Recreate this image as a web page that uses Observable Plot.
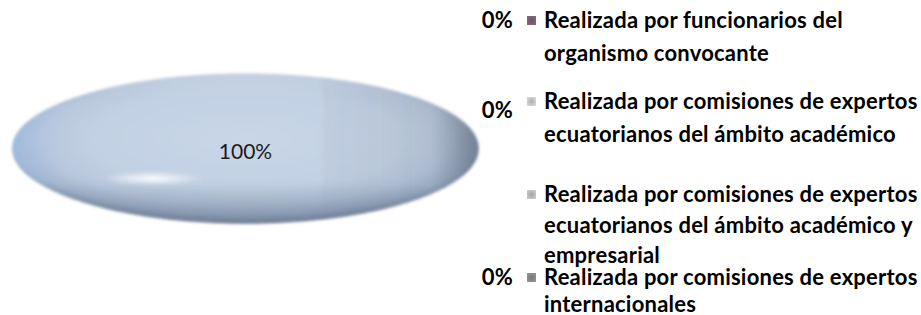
<!DOCTYPE html>
<html><head><meta charset="utf-8">
<script src="https://cdn.jsdelivr.net/npm/d3@7"></script>
<script src="https://cdn.jsdelivr.net/npm/@observablehq/plot@0.6"></script>
<style>
body{margin:0;background:#fff;}
#wrap{position:relative;width:921px;height:315px;overflow:hidden;font-family:Lato,"Open Sans",sans-serif;}
#chart{position:absolute;left:0;top:0;}
#chart svg g[aria-label="line"]{filter:url(#soft);}
.pct{position:absolute;width:44px;text-align:right;font-weight:bold;font-size:22px;line-height:20px;color:#000;white-space:nowrap;}
.sw{position:absolute;width:9px;height:9px;}
.lab{position:absolute;font-weight:bold;font-size:22px;line-height:20px;color:#000;white-space:nowrap;}
</style></head><body>
<div id="wrap"><div id="chart"></div></div>
<script>
// ---- data ----
const categories = [
  "Realizada por funcionarios del organismo convocante",
  "Realizada por comisiones de expertos ecuatorianos del ámbito académico",
  "Realizada por comisiones de expertos ecuatorianos del ámbito académico y empresarial",
  "Realizada por comisiones de expertos internacionales"
];
const labelLines = [
  ["Realizada por funcionarios del", "organismo convocante"],
  ["Realizada por comisiones de expertos", "ecuatorianos del ámbito académico"],
  ["Realizada por comisiones de expertos", "ecuatorianos del ámbito académico y", "empresarial"],
  ["Realizada por comisiones de expertos", "internacionales"]
];
const values = [0, 0, 100, 0];
const pctLabels = ["0%", "0%", "100%", "0%"];
const legendColors = ["#7d6070", "#c8c8c8", "#bdbdbd", "#8a8a8a"];

// ---- pie geometry (Excel: start at top, clockwise) ----
const arcs = d3.pie().sort(null).value(d => d)(values);
const pts = [];
arcs.forEach((a, i) => {
  if (a.endAngle - a.startAngle <= 0) return;
  const full = a.endAngle - a.startAngle >= 2 * Math.PI - 1e-9;
  const n = Math.max(2, Math.round(360 * (a.endAngle - a.startAngle) / (2 * Math.PI)));
  if (!full) pts.push({cat: categories[i], x: 0, y: 0});
  for (let k = 0; k <= n; k++) {
    const t = a.startAngle + (a.endAngle - a.startAngle) * k / n;
    pts.push({cat: categories[i], x: Math.sin(t), y: Math.cos(t)});
  }
});
const sliceLabels = arcs.filter(a => a.value > 0).map(a => {
  const full = a.endAngle - a.startAngle >= 2 * Math.PI - 1e-9;
  const m = (a.startAngle + a.endAngle) / 2;
  return {x: full ? 0 : 0.6 * Math.sin(m), y: full ? 0 : 0.6 * Math.cos(m), text: pctLabels[a.index]};
});

const plot = Plot.plot({
  width: 490, height: 315,
  marginLeft: 12, marginRight: 12, marginTop: 73, marginBottom: 92,
  x: {domain: [-1, 1], axis: null},
  y: {domain: [-1, 1], axis: null},
  marks: [
    Plot.line(pts, {x: "x", y: "y", z: "cat", fill: "url(#pieFace)", stroke: "none", curve: "linear-closed"}),
    Plot.line(pts, {x: "x", y: "y", z: "cat", fill: "url(#pieSide)", stroke: "none", curve: "linear-closed"}),
    Plot.line(pts, {x: "x", y: "y", z: "cat", fill: "url(#pieBottom)", stroke: "none", curve: "linear-closed"}),
    Plot.line(pts, {x: "x", y: "y", z: "cat", fill: "url(#pieHi)", stroke: "none", curve: "linear-closed"}),
    Plot.text(sliceLabels, {x: "x", y: "y", text: "text", fontSize: 21, fill: "#1b1b1b", dy: 4,
      fontFamily: "Lato, 'Open Sans', sans-serif"})
  ]
});
plot.insertAdjacentHTML("afterbegin", `<defs>
  <filter id="soft" x="-5%" y="-10%" width="110%" height="120%"><feGaussianBlur stdDeviation="1.5"/></filter>
  <radialGradient id="pieFace" cx="0.5" cy="0.44" r="0.56">
    <stop offset="0" stop-color="#c9d6e8"/>
    <stop offset="0.6" stop-color="#c2d0e3"/>
    <stop offset="0.78" stop-color="#b8c7dc"/>
    <stop offset="0.9" stop-color="#a4b6ce"/>
    <stop offset="1" stop-color="#7f8ea4"/>
  </radialGradient>
  <linearGradient id="pieSide" x1="0" x2="1" y1="0" y2="0">
    <stop offset="0" stop-color="#9dbde8" stop-opacity="0.55"/>
    <stop offset="0.12" stop-color="#a9c3e6" stop-opacity="0"/>
    <stop offset="0.66" stop-color="#6b7585" stop-opacity="0"/>
    <stop offset="0.67" stop-color="#6b7585" stop-opacity="0.06"/>
    <stop offset="0.9" stop-color="#50596a" stop-opacity="0.12"/>
    <stop offset="1" stop-color="#4a5262" stop-opacity="0.55"/>
  </linearGradient>
  <linearGradient id="pieBottom" x1="0" x2="0" y1="0" y2="1">
    <stop offset="0" stop-color="#ffffff" stop-opacity="0.15"/>
    <stop offset="0.15" stop-color="#ffffff" stop-opacity="0"/>
    <stop offset="0.72" stop-color="#55647a" stop-opacity="0"/>
    <stop offset="1" stop-color="#55647a" stop-opacity="0.45"/>
  </linearGradient>
  <radialGradient id="pieHi" cx="0.3" cy="0.7" r="0.11" gradientTransform="translate(0.3,0.7) scale(1,0.45) translate(-0.3,-0.7)">
    <stop offset="0" stop-color="#ffffff" stop-opacity="0.95"/>
    <stop offset="0.5" stop-color="#ffffff" stop-opacity="0.45"/>
    <stop offset="1" stop-color="#ffffff" stop-opacity="0"/>
  </radialGradient>
</defs>`);
document.getElementById("chart").appendChild(plot);

// ---- legend (HTML) ----
const wrap = document.getElementById("wrap");
const lineCenters = [[20, 53], [101, 134], [194, 225, 255], [277, 304]];
const pctCenters = [20, 110, null, 277];
const ctx = document.createElement("canvas").getContext("2d");
ctx.font = "bold 22px Lato";
const ref = "Realizada por comisiones de expertos";
const ls = (374 - ctx.measureText(ref).width) / ref.length;
categories.forEach((c, i) => {
  if (values[i] === 0) {
    const p = document.createElement("div");
    p.className = "pct"; p.textContent = pctLabels[i];
    p.style.left = "469px"; p.style.top = (pctCenters[i] - 10) + "px";
    p.style.letterSpacing = ls + "px";
    wrap.appendChild(p);
  }
  const sw = document.createElement("div");
  sw.className = "sw";
  sw.style.left = "527px"; sw.style.top = (lineCenters[i][0] - 4) + "px";
  sw.style.background = `radial-gradient(${d3.color(legendColors[i]).darker(0.4)}, ${d3.color(legendColors[i]).brighter(0.3)})`;
  wrap.appendChild(sw);
  labelLines[i].forEach((t, j) => {
    const l = document.createElement("div");
    l.className = "lab"; l.textContent = t;
    l.style.left = "544px"; l.style.top = (lineCenters[i][j] - 10) + "px";
    l.style.letterSpacing = ls + "px";
    wrap.appendChild(l);
  });
});
</script>
</body></html>
